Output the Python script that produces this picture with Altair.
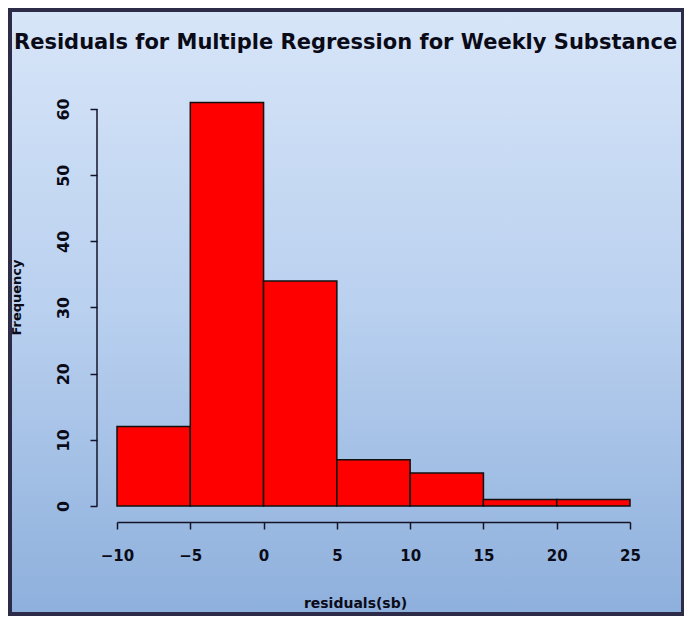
import altair as alt
import pandas as pd

# ---- data ----
bin_starts = [-10, -5, 0, 5, 10, 15, 20]
bin_width = 5
frequencies = [12, 61, 34, 7, 5, 1, 1]
x_ticks = [-10, -5, 0, 5, 10, 15, 20, 25]
y_ticks = [0, 10, 20, 30, 40, 50, 60]
title_text = "Residuals for Multiple Regression for Weekly  Substance Use"
x_title = "residuals(sb)"
y_title = "Frequency"

df = pd.DataFrame({
    "start": bin_starts,
    "end": [s + bin_width for s in bin_starts],
    "count": frequencies,
})

FONT = "DejaVu Sans"
INK = "#0b0b18"
AXIS = "#141428"

W, H = 513, 406
Y_MAX = 61.36

bg = alt.Chart(alt.Data(values=[{}])).mark_rect(
    color=alt.Gradient(
        gradient="linear",
        stops=[
            alt.GradientStop(color="#d7e5f8", offset=0),
            alt.GradientStop(color="#b9d0ef", offset=0.5),
            alt.GradientStop(color="#8eb0dc", offset=1),
        ],
        x1=0, x2=0, y1=0, y2=1,
    )
).encode(
    x=alt.value(-105), x2=alt.value(564),
    y=alt.value(-88), y2=alt.value(512),
)

bars = alt.Chart(df).mark_rect(
    color="#ff0000", stroke="#101010", strokeWidth=1.5
).encode(
    x=alt.X(
        "start:Q",
        scale=alt.Scale(domain=[-10, 25], nice=False, zero=False),
        axis=alt.Axis(
            values=x_ticks, offset=16, tickSize=7, tickWidth=1.5,
            domainWidth=1.5, domainColor=AXIS, tickColor=AXIS, grid=False,
            zindex=2,
            labelFont=FONT, labelFontWeight="bold", labelFontSize=15,
            labelColor=INK, labelPadding=19, labelBaseline="top",
            labelFlush=False,
            title=x_title, titleFont=FONT, titleFontWeight="bold",
            titleFontSize=14, titleColor=INK, titleX=238, titleY=81,
            titleAlign="center", titleBaseline="middle",
        ),
    ),
    x2="end:Q",
    y=alt.Y(
        "count:Q",
        scale=alt.Scale(domain=[0, Y_MAX], nice=False),
        axis=alt.Axis(
            values=y_ticks, offset=20, tickSize=7, tickWidth=1.5,
            domain=False, tickColor=AXIS, grid=False, zindex=2,
            labelFont=FONT, labelFontWeight="bold", labelFontSize=16,
            labelColor=INK, labelAngle=270, labelAlign="center",
            labelBaseline="bottom", labelPadding=19,
            title=y_title, titleFont=FONT, titleFontWeight="bold",
            titleFontSize=13, titleColor=INK, titleAngle=270,
            titleX=-81, titleY=197, titleAlign="center",
            titleBaseline="middle",
        ),
    ),
    y2=alt.datum(0),
)

y_line = alt.Chart(alt.Data(values=[{}])).mark_rule(
    color=AXIS, strokeWidth=1.5
).encode(
    x=alt.value(-20),
    y=alt.datum(0),
    y2=alt.datum(60),
)

title = alt.Chart(alt.Data(values=[{}])).mark_text(
    font=FONT, fontWeight="bold", fontSize=21, color=INK,
    align="left", baseline="middle",
).encode(
    x=alt.value(-103), y=alt.value(-57), text=alt.value(title_text),
)

chart = alt.layer(bg, bars, y_line, title).properties(
    width=W, height=H,
    autosize=alt.AutoSizeParams(type="none"),
    padding={"left": 109, "top": 92, "right": 54, "bottom": 110},
    background="#2c2c48",
).configure_view(stroke=None)

chart.save("out.html", embed_options={"renderer": "svg", "actions": False})
